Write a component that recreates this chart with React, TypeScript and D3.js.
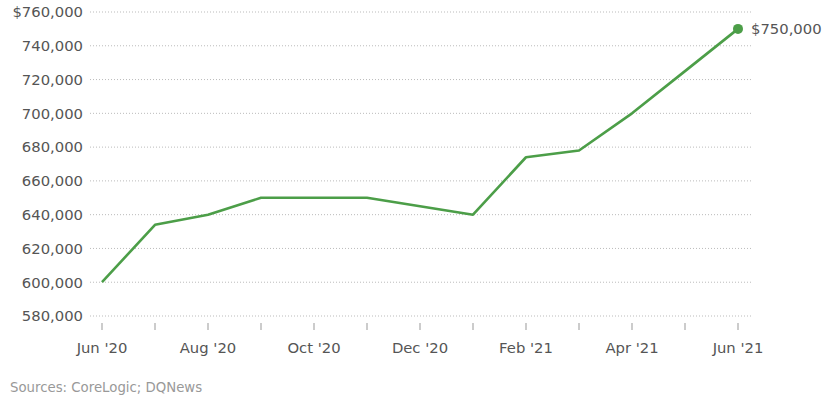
import React from "react";
import * as d3 from "d3";

const months = ["2020-06","2020-07","2020-08","2020-09","2020-10","2020-11","2020-12","2021-01","2021-02","2021-03","2021-04","2021-05","2021-06"];
const prices = [600000, 634000, 640000, 650000, 650000, 650000, 645000, 640000, 674000, 678000, 700000, 725000, 750000];
const yTicks = [580000, 600000, 620000, 640000, 660000, 680000, 700000, 720000, 740000, 760000];
const xLabels = ["Jun '20", "", "Aug '20", "", "Oct '20", "", "Dec '20", "", "Feb '21", "", "Apr '21", "", "Jun '21"];
const sourceText = "Sources: CoreLogic; DQNews";

export default function App() {
  const W = 827, H = 400;
  const x = d3.scalePoint<string>().domain(months).range([102, 738]);
  const y = d3.scaleLinear().domain([580000, 760000]).range([316, 12]);
  const line = d3.line<number>().x((_, i) => x(months[i]) as number).y((d) => y(d));
  const fmt = d3.format(",");
  const font = "'DejaVu Sans', Verdana, sans-serif";
  const last = prices.length - 1;
  const lx = x(months[last]) as number;
  return (
    <svg width={W} height={H} style={{ position: "absolute", left: 0, top: 0, background: "#fff" }} fontFamily={font}>
      {yTicks.map((t, i) => (
        <g key={t}>
          <line x1={90} x2={752} y1={y(t)} y2={y(t)} stroke="#bbb" strokeWidth={1} strokeDasharray="1,2" />
          <text x={83} y={y(t)} dy="0.36em" textAnchor="end" fontSize={14.8} fill="#555">
            {i === yTicks.length - 1 ? "$" + fmt(t) : fmt(t)}
          </text>
        </g>
      ))}
      {months.map((m, i) => (
        <g key={m}>
          <line x1={x(m)} x2={x(m)} y1={323} y2={330} stroke="#999" strokeWidth={1} />
          {xLabels[i] && (
            <text x={x(m)} y={353} textAnchor="middle" fontSize={14.8} fill="#555">{xLabels[i]}</text>
          )}
        </g>
      ))}
      <path d={line(prices) || ""} fill="none" stroke="#4c9e48" strokeWidth={2.6} strokeLinejoin="round" />
      <circle cx={lx} cy={y(prices[last])} r={5} fill="#4c9e48" />
      <text x={751} y={y(prices[last])} dy="0.36em" fontSize={14.8} fill="#555">${fmt(prices[last])}</text>
      <text x={10} y={392} fontSize={13.3} fill="#999">{sourceText}</text>
    </svg>
  );
}
